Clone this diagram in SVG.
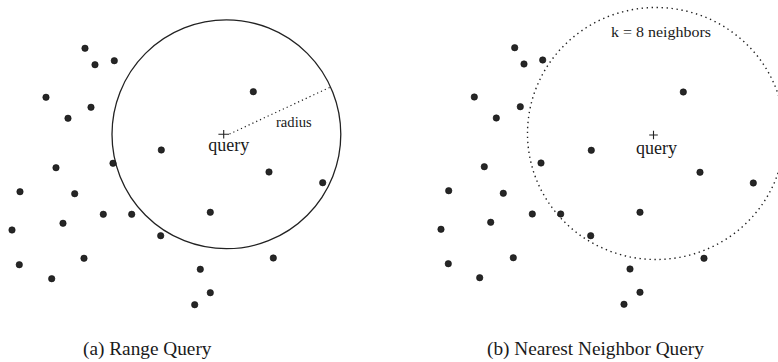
<svg xmlns="http://www.w3.org/2000/svg" width="778" height="362" viewBox="0 0 778 362">
<style>
.pt{fill:#262626;stroke:#111;stroke-width:0.6}
.ring{fill:none;stroke:#222;stroke-width:1.3}
.dotring{fill:none;stroke:#222;stroke-width:1.4;stroke-dasharray:1.4 3.6}
.rad{fill:none;stroke:#222;stroke-width:1.2;stroke-dasharray:1.2 3}
.cross{stroke:#222;stroke-width:1.1}
text{font-family:"Liberation Serif","Times New Roman",serif;fill:#1a1a1a}
.q{font-size:18px}
.s{font-size:14.6px}
.cap{font-size:19.3px}
</style>
<rect width="778" height="362" fill="#fff"/>
<g id="panel-a">
<circle class="ring" cx="226.4" cy="134.3" r="114.4"/>
<line class="rad" x1="229.5" y1="134" x2="330" y2="87.3"/>
<path class="cross" d="M218.4 134.3H229M223.7 130V138.6"/>
<text class="q" x="208.3" y="151">query</text>
<text class="s" x="276" y="126.7">radius</text>
<g id="points-a">
<circle class="pt" cx="85" cy="48.3" r="3.2"/>
<circle class="pt" cx="95" cy="64.7" r="3.2"/>
<circle class="pt" cx="114.3" cy="60.7" r="3.2"/>
<circle class="pt" cx="46" cy="97.3" r="3.2"/>
<circle class="pt" cx="91" cy="107.3" r="3.2"/>
<circle class="pt" cx="68" cy="118.3" r="3.2"/>
<circle class="pt" cx="253.3" cy="91.7" r="3.2"/>
<circle class="pt" cx="161.3" cy="150" r="3.2"/>
<circle class="pt" cx="56" cy="167.7" r="3.2"/>
<circle class="pt" cx="113" cy="163.3" r="3.2"/>
<circle class="pt" cx="269" cy="172" r="3.2"/>
<circle class="pt" cx="322.7" cy="182.7" r="3.2"/>
<circle class="pt" cx="20" cy="191.7" r="3.2"/>
<circle class="pt" cx="74.7" cy="193.7" r="3.2"/>
<circle class="pt" cx="103.3" cy="214.3" r="3.2"/>
<circle class="pt" cx="131.7" cy="214.3" r="3.2"/>
<circle class="pt" cx="210.3" cy="212.3" r="3.2"/>
<circle class="pt" cx="63" cy="223.3" r="3.2"/>
<circle class="pt" cx="12" cy="230" r="3.2"/>
<circle class="pt" cx="160.7" cy="235.7" r="3.2"/>
<circle class="pt" cx="84" cy="258.3" r="3.2"/>
<circle class="pt" cx="19.3" cy="264.7" r="3.2"/>
<circle class="pt" cx="51.7" cy="278.7" r="3.2"/>
<circle class="pt" cx="273.3" cy="258" r="3.2"/>
<circle class="pt" cx="200.3" cy="269.3" r="3.2"/>
<circle class="pt" cx="210.3" cy="292.7" r="3.2"/>
<circle class="pt" cx="194.7" cy="304.7" r="3.2"/>
</g>
<text class="cap" x="83" y="355">(a) Range Query</text>
</g>
<g id="panel-b">
<ellipse class="dotring" cx="656" cy="133.5" rx="128.5" ry="126"/>
<path class="cross" d="M649.2 135H657.8M653.5 130.7V139.3"/>
<text class="q" x="636" y="154">query</text>
<text class="s" x="611" y="37.3" textLength="100" lengthAdjust="spacingAndGlyphs">k = 8 neighbors</text>
<g id="points-b">
<circle class="pt" cx="514.7" cy="47.7" r="3.2"/>
<circle class="pt" cx="524" cy="64" r="3.2"/>
<circle class="pt" cx="542.7" cy="60" r="3.2"/>
<circle class="pt" cx="474.3" cy="97" r="3.2"/>
<circle class="pt" cx="520.3" cy="106.7" r="3.2"/>
<circle class="pt" cx="496.3" cy="118" r="3.2"/>
<circle class="pt" cx="683.3" cy="92" r="3.2"/>
<circle class="pt" cx="591.3" cy="150.3" r="3.2"/>
<circle class="pt" cx="484.3" cy="166.7" r="3.2"/>
<circle class="pt" cx="541" cy="163" r="3.2"/>
<circle class="pt" cx="700" cy="172.3" r="3.2"/>
<circle class="pt" cx="753.3" cy="183" r="3.2"/>
<circle class="pt" cx="448.7" cy="190.7" r="3.2"/>
<circle class="pt" cx="503.3" cy="193.3" r="3.2"/>
<circle class="pt" cx="532.3" cy="214" r="3.2"/>
<circle class="pt" cx="560.7" cy="214" r="3.2"/>
<circle class="pt" cx="640" cy="212.3" r="3.2"/>
<circle class="pt" cx="490.7" cy="222.3" r="3.2"/>
<circle class="pt" cx="441" cy="229.3" r="3.2"/>
<circle class="pt" cx="590.7" cy="235.7" r="3.2"/>
<circle class="pt" cx="513.3" cy="257.7" r="3.2"/>
<circle class="pt" cx="448.3" cy="263.7" r="3.2"/>
<circle class="pt" cx="479.7" cy="277.7" r="3.2"/>
<circle class="pt" cx="704" cy="258.3" r="3.2"/>
<circle class="pt" cx="630" cy="269" r="3.2"/>
<circle class="pt" cx="640" cy="292.3" r="3.2"/>
<circle class="pt" cx="624" cy="304.3" r="3.2"/>
</g>
<text class="cap" x="487" y="355">(b) Nearest Neighbor Query</text>
</g>
</svg>
